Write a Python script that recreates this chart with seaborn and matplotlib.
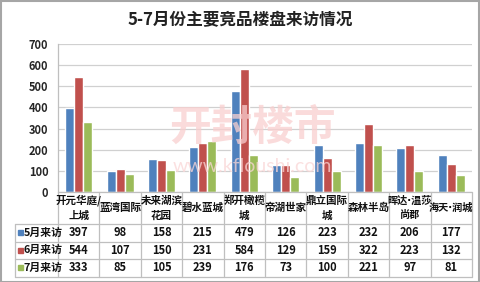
import matplotlib
matplotlib.use("Agg")
import matplotlib.pyplot as plt
import seaborn as sns
import pandas as pd
from matplotlib.lines import Line2D
from matplotlib.patches import Rectangle

categories = ["开元华庭/\n上城", "蓝湾国际", "未来湖滨\n花园", "碧水蓝城", "郑开橄榄\n城",
              "帝湖世家", "鼎立国际\n城", "森林半岛", "晖达·温莎\n尚郡", "海天·润城"]
series_names = ["5月来访", "6月来访", "7月来访"]
may = [397, 98, 158, 215, 479, 126, 223, 232, 206, 177]
jun = [544, 107, 150, 231, 584, 129, 159, 322, 223, 132]
jul = [333, 85, 105, 239, 176, 73, 100, 221, 97, 81]
yticks = [0, 100, 200, 300, 400, 500, 600, 700]
colors = ["#4F81BD", "#C0504D", "#9BBB59"]

sns.set_style("white")
plt.rcParams['font.family'] = ['Noto Sans CJK SC', 'DejaVu Sans']

rows = []
for name, vals in zip(series_names, [may, jun, jul]):
    for c, v in zip(categories, vals):
        rows.append({"楼盘": c, "系列": name, "来访": v})
df = pd.DataFrame(rows)

W, H = 480, 282
fig = plt.figure(figsize=(W / 100, H / 100), dpi=100)
fig.patch.set_facecolor("white")

def fx(x):
    return x / W

def fy(y):
    return 1 - y / H

L, R, T, B = 58, 472, 44, 192
ax = fig.add_axes([fx(L), fy(B), (R - L) / W, (B - T) / H])
sns.barplot(data=df, x="楼盘", y="来访", hue="系列", palette=colors, ax=ax,
            width=0.65, gap=0, saturation=1, legend=False, zorder=3)
ax.set_ylim(0, 700)
ax.set_xlim(-0.5, len(categories) - 0.5)
ax.set_yticks(yticks)
ax.set_yticklabels([str(t) for t in yticks], fontsize=8, fontweight="bold")
ax.set_xticks([])
ax.set_xlabel("")
ax.set_ylabel("")
ax.tick_params(axis="y", length=0, pad=7)
ax.yaxis.grid(True, color="#D0D0D0", linewidth=0.9, zorder=0)
ax.set_axisbelow(True)
for s in ["top", "right", "bottom"]:
    ax.spines[s].set_visible(False)
ax.spines["left"].set_color("#BFBFBF")
ax.spines["left"].set_linewidth(0.9)

# watermark
fig.text(fx(252), fy(128), "开封楼市", fontsize=30, color="#F9CFCF", alpha=0.75,
         ha="center", va="center", fontweight="bold", zorder=5)
fig.text(fx(252), fy(167), "www.kfloushi.com", fontsize=14, color="#FAD6D6", alpha=0.75,
         ha="center", va="center", family=["Lato", "DejaVu Sans"], zorder=5)

# title
fig.text(fx(240), fy(20), "5-7月份主要竞品楼盘来访情况", fontsize=12, fontweight="bold",
         ha="center", va="center", color="#222222")

# data table
lc = "#BFBFBF"
col_w = (R - L) / len(categories)
row_lines = [B, 224, 241.5, 259, 276.5]
for y in row_lines:
    x0 = L if y == B else 15
    fig.add_artist(Line2D([fx(x0), fx(R)], [fy(y), fy(y)], color=lc, lw=0.9))
for i in range(len(categories) + 1):
    x = L + i * col_w
    fig.add_artist(Line2D([fx(x), fx(x)], [fy(B), fy(276.5)], color=lc, lw=0.9))
fig.add_artist(Line2D([fx(15), fx(15)], [fy(224), fy(276.5)], color=lc, lw=0.9))

for i, c in enumerate(categories):
    cx = L + (i + 0.5) * col_w
    if "·" in c:
        fam = ['DejaVu Sans', 'Noto Sans CJK SC']
        fs = 7.3
    else:
        fam = ['Noto Sans CJK SC', 'DejaVu Sans']
        fs = 7.6
    fig.text(fx(cx), fy(208), c, fontsize=fs, fontweight="bold", ha="center",
             va="center", linespacing=1.55, color="#111111", family=fam)

row_centers = [232.5, 250, 267.5]
for r, (name, vals, col) in enumerate(zip(series_names, [may, jun, jul], colors)):
    yc = row_centers[r]
    fig.add_artist(Rectangle((fx(18), fy(yc + 2.5)), 5 / W, 5 / H, color=col,
                             transform=fig.transFigure))
    fig.text(fx(24), fy(yc), name, fontsize=7.8, fontweight="bold", ha="left",
             va="center", color="#111111")
    for i, v in enumerate(vals):
        cx = L + (i + 0.5) * col_w
        fig.text(fx(cx), fy(yc), str(v), fontsize=8, fontweight="bold", ha="center",
                 va="center", color="#111111")

# outer border
fig.add_artist(Rectangle((0.5 / W, 0.5 / H), 1 - 1.5 / W, 1 - 1.5 / H, fill=False,
                         edgecolor="#A6A6A6", lw=1.5, transform=fig.transFigure))

fig.savefig("out.png", dpi=100)
